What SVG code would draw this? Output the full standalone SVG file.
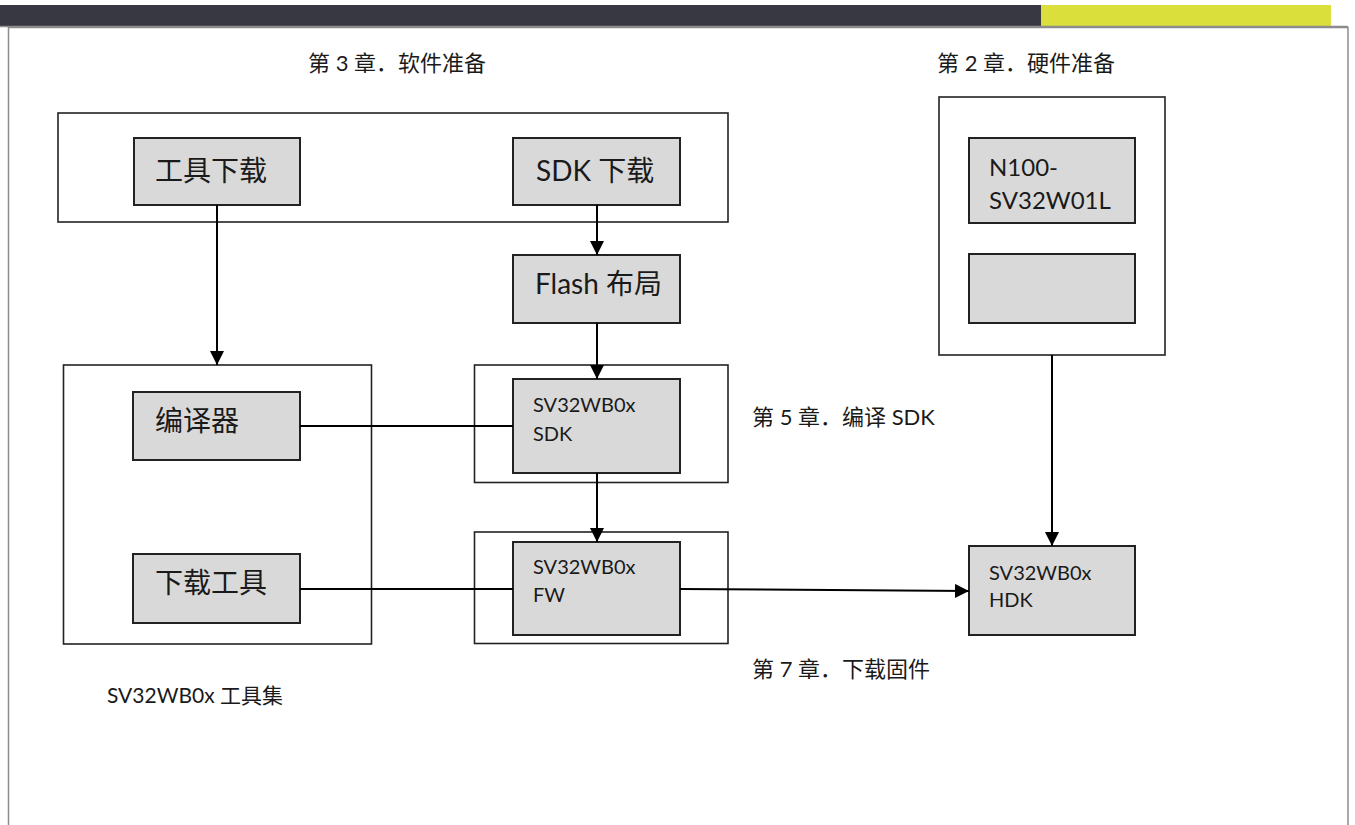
<svg xmlns="http://www.w3.org/2000/svg" width="1355" height="825" viewBox="0 0 1355 825">
<defs>
<style>
.frame{fill:none;stroke:#8c8c8c;stroke-width:1.5}
.outer{fill:#fff;stroke:#222;stroke-width:1.6}
.inner{fill:#d9d9d9;stroke:#222;stroke-width:2}
.t{font-family:Lato,"Noto Sans CJK SC",sans-serif;fill:#1a1a1a}
.big{font-size:28px}
.mid{font-size:20px}
.lbl{font-size:22px}
.conn{stroke:#000;stroke-width:2;fill:none}
</style>
<marker id="ah" viewBox="0 0 14 14" refX="14" refY="7" markerWidth="14" markerHeight="14" markerUnits="userSpaceOnUse" orient="auto">
<path d="M0,0 L14,7 L0,14 Z" fill="#000"/>
</marker>
</defs>
<rect width="1355" height="825" fill="#fff"/>
<g id="header">
<rect x="0" y="5" width="1041" height="21.5" fill="#383843"/>
<rect x="1041" y="5" width="290" height="21.5" fill="#dadf3b"/>
<line x1="0" y1="26.5" x2="1348" y2="26.5" stroke="#8c8c8c" stroke-width="1.5"/>
<rect class="frame" x="8.5" y="27.5" width="1339.5" height="820"/>
</g>
<g id="titles">
<text class="t lbl" x="308" y="71">第 3 章．软件准备</text>
<text class="t lbl" x="937" y="71">第 2 章．硬件准备</text>
<text class="t lbl" x="752" y="425">第 5 章．编译 SDK</text>
<text class="t lbl" x="752" y="677">第 7 章．下载固件</text>
<text class="t" font-size="21" x="107" y="703">SV32WB0x 工具集</text>
</g>
<g id="software-group"><rect class="outer" x="58" y="113" width="670" height="109"/></g>
<g id="toolset-group"><rect class="outer" x="63.5" y="365" width="308" height="279"/></g>
<g id="sdk-group"><rect class="outer" x="474.5" y="365" width="253.5" height="117.5"/></g>
<g id="fw-group"><rect class="outer" x="474.5" y="532" width="253.5" height="111.5"/></g>
<g id="hardware-group"><rect class="outer" x="939" y="97" width="226" height="258"/></g>
<g id="tool-download"><rect class="inner" x="134" y="138" width="166" height="67"/><text class="t big" x="155" y="181">工具下载</text></g>
<g id="sdk-download"><rect class="inner" x="513" y="138" width="167" height="67"/><text class="t big" x="536" y="181">SDK 下载</text></g>
<g id="flash-layout"><rect class="inner" x="513" y="255" width="167" height="68"/><text class="t big" x="535" y="294">Flash 布局</text></g>
<g id="compiler"><rect class="inner" x="133" y="392" width="167" height="68"/><text class="t big" x="155" y="431">编译器</text></g>
<g id="download-tool"><rect class="inner" x="133" y="554" width="167" height="69"/><text class="t big" x="155" y="593">下载工具</text></g>
<g id="sdk"><rect class="inner" x="513" y="379" width="167" height="94"/><text class="t mid" x="533" y="412">SV32WB0x</text><text class="t mid" x="533" y="441">SDK</text></g>
<g id="fw"><rect class="inner" x="513" y="542" width="167" height="93"/><text class="t mid" x="533" y="574">SV32WB0x</text><text class="t mid" x="533" y="602">FW</text></g>
<g id="module"><rect class="inner" x="969" y="138" width="166" height="85"/><text class="t" font-size="24" x="989" y="176">N100-</text><text class="t" font-size="24" x="989" y="209">SV32W01L</text></g>
<g id="module-blank"><rect class="inner" x="969" y="254" width="166" height="69"/></g>
<g id="hdk"><rect class="inner" x="969" y="546" width="166" height="89"/><text class="t mid" x="989" y="580">SV32WB0x</text><text class="t mid" x="989" y="607">HDK</text></g>
<g id="connectors">
<line class="conn" x1="217" y1="205" x2="217" y2="365" marker-end="url(#ah)"/>
<line class="conn" x1="597" y1="205" x2="597" y2="255" marker-end="url(#ah)"/>
<line class="conn" x1="597" y1="323" x2="597" y2="379" marker-end="url(#ah)"/>
<line class="conn" x1="597" y1="473" x2="597" y2="542" marker-end="url(#ah)"/>
<line class="conn" x1="300" y1="426" x2="513" y2="426" stroke-width="1.6"/>
<line class="conn" x1="300" y1="589" x2="513" y2="589"/>
<line class="conn" x1="680" y1="589" x2="969" y2="591" marker-end="url(#ah)"/>
<line class="conn" x1="1052" y1="355" x2="1052" y2="546" marker-end="url(#ah)"/>
</g>
</svg>
